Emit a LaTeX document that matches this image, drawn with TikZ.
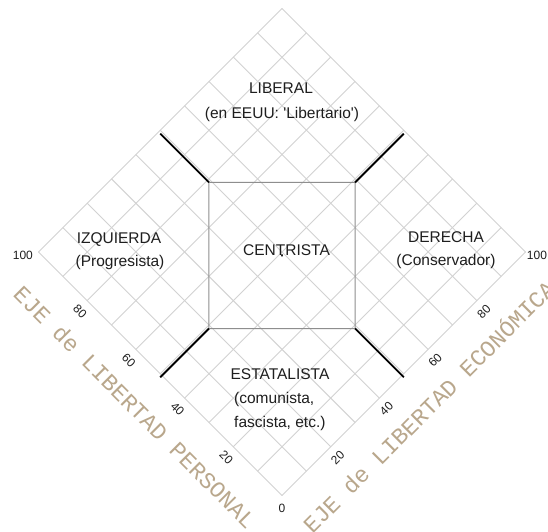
\documentclass[tikz,border=0pt]{standalone}
\usepackage{fontspec}
\usepackage{xcolor}
\newfontfamily\labelfont{Liberation Sans}
\newfontfamily\axisfont{Liberation Mono}
\definecolor{gridgray}{HTML}{D2D2D2}
\definecolor{boxgray}{HTML}{8E8E8E}
\definecolor{axistan}{HTML}{B9A78C}
\definecolor{labelink}{HTML}{1E1E1E}

\begin{document}
\begin{tikzpicture}[x=1pt, y=1pt,
  region/.style={font=\labelfont\fontsize{15.5}{19}\selectfont, text=labelink,
                 inner sep=0pt, anchor=base},
  tick/.style={font=\labelfont\fontsize{12}{14}\selectfont, text=labelink, inner sep=0pt},
  axistitle/.style={font=\axisfont\fontsize{23}{26}\selectfont, text=axistan, inner sep=0pt},
  gridline/.style={draw=gridgray, line width=0.9pt},
  border/.style={draw=boxgray, line width=1pt},
  divider/.style={draw=black, line width=1.8pt},
]
\path[use as bounding box, fill=white] (0,0) rectangle (548,531);

% --- Rejilla ---
\begin{scope}[shift={(282pt,35.5pt)}, rotate=45, x=34.44pt, y=34.44pt]
  \foreach \k in {0,...,10} {
    \draw[gridline] (\k,0) -- (\k,10);
    \draw[gridline] (0,\k) -- (10,\k);
  }
  % escalas
  \foreach \k in {2,4,6,8} {
    \node[tick, rotate=-45] (pers\k) at (-0.37,\k-0.08) {\k0};
    \node[tick, rotate=45]  (econ\k) at (\k-0.08,-0.37) {\k0};
  }
  \node[tick] (cero)    at (-0.26,-0.26) {0};
  \node[tick] (persmax) at (-0.38,10.26) {100};
  \node[tick] (econmax) at (10.17,-0.30) {100};
\end{scope}

% --- Centro y separadores ---
\begin{scope}[shift={(282pt,32pt)}, rotate=45, x=34.44pt, y=34.44pt]
  \coordinate (ctl) at (5,8);
  \coordinate (ctr) at (8,5);
  \coordinate (cbr) at (5,2);
  \coordinate (cbl) at (2,5);
  \coordinate (etl) at (5,10);
  \coordinate (etr) at (10,5);
  \coordinate (ebr) at (5,0);
  \coordinate (ebl) at (0,5);
  \coordinate (cmid) at (5,5);
  \draw[border] (ctl) -- (ctr) -- (cbr) -- (cbl) -- cycle;
  \draw[divider] (ctl) -- (etl);
  \draw[divider] (ctr) -- (etr);
  \draw[divider] (cbr) -- (ebr);
  \draw[divider] (cbl) -- (ebl);
  \fill[labelink] (cmid) circle (1.4pt);
\end{scope}

% --- Regiones ---
\node[region] (liberal)    at (281,437.7) {LIBERAL};
\node[region] (liberalsub) at (282,412)   {(en EEUU: \textquotesingle Libertario\textquotesingle)};
\node[region] (izq)        at (119,288)   {IZQUIERDA};
\node[region] (izqsub)     at (120,265)   {(Progresista)};
\node[region] (der)        at (446,289)   {DERECHA};
\node[region] (dersub)     at (446,266)   {(Conservador)};
\node[region] (centro)     at (286.5,276) {CENTRISTA};
\node[region] (estat)      at (280,151.5) {ESTATALISTA};
\node[region, anchor=base west] (estatsubA) at (234,128) {(comunista,};
\node[region, anchor=base west] (estatsubB) at (234,104) {fascista, etc.)};

% --- Ejes ---
\node[axistitle, rotate=-45] (ejepers) at (135,124) {EJE de LIBERTAD PERSONAL};
\node[axistitle, rotate=45]  (ejeecon) at (428,125) {EJE de LIBERTAD ECONÓMICA};

\end{tikzpicture}
\end{document}
